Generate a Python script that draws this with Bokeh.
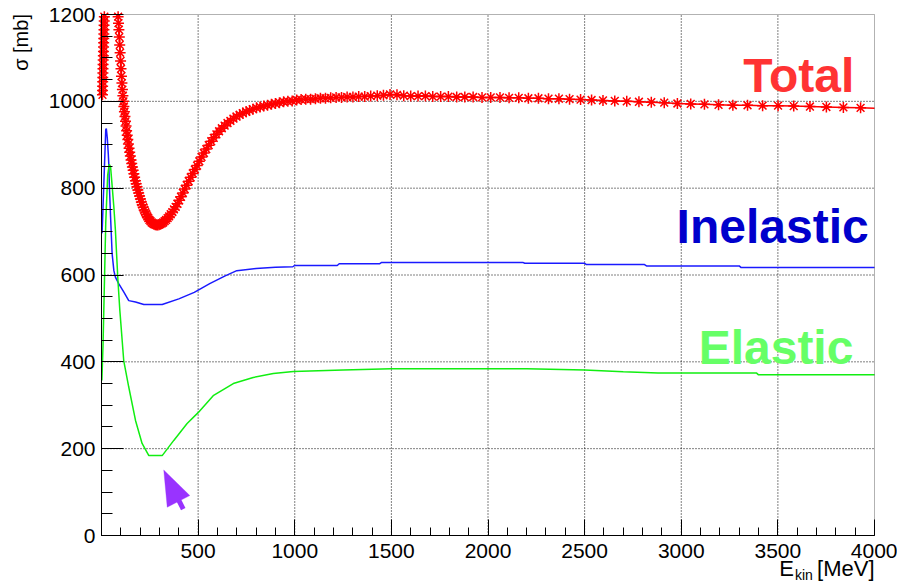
import math
from bokeh.plotting import figure
from bokeh.models import FixedTicker, Label, PolyAnnotation, Range1d, Arrow, BoxAnnotation
from bokeh.embed import file_html
from bokeh.resources import INLINE

# ---------------- data ----------------
# Total cross-section (markers), low-energy column (curve leaves the frame above 1200 mb)
total_energy_low = [5.0, 5.4, 5.8, 6.2, 6.7, 7.2, 7.7, 8.2, 8.8, 9.5,
                    10.1, 10.6, 11.1, 11.7, 12.2, 12.8, 13.4, 14.1, 14.7]
total_low = [1015, 1025, 1035, 1045, 1055, 1065, 1075, 1085, 1095, 1105,
             1115, 1125, 1135, 1145, 1155, 1165, 1175, 1185, 1195]

# Total cross-section, main branch
total_energy = [86.0, 87.9, 90.0, 92.1, 94.2, 96.4, 98.7,
                101, 103.3, 105.7, 108.2, 110.7, 113.3, 115.9, 118.6, 121.4, 124.2,
                127.1, 130.0, 133.1, 136.2, 139.3, 142.7, 145.9, 149.3, 152.9, 156.4,
                160.0, 163.8, 167.6, 171.4, 175.5, 179.5, 183.8, 188.0, 192.3, 196.9,
                201.4, 206.2, 210.9, 215.9, 220.9, 226.1, 231.3, 236.7, 242.2, 247.9,
                253.6, 259.5, 265.6, 271.8, 278.1, 284.5, 291.2, 298.0, 304.9, 312.0,
                319.3, 326.7, 334.3, 342.1, 350.1, 358.2, 366.6, 375.1, 383.9, 392.8,
                402.0, 411.4, 420.9, 430.7, 440.7, 451.0, 461.5, 472.2, 483.2, 494.6,
                506.1, 517.9, 529.9, 542.2, 554.8, 567.8, 581.0, 594.5, 608.4, 622.6,
                637.1, 652.0, 667.1, 682.7, 698.5, 714.8, 731.4, 748.5, 766.0, 783.7,
                802.0, 820.7, 839.9, 859.4, 879.4, 900.0, 920.8, 942.4, 964.3, 986.7,
                1010, 1033, 1057, 1082, 1107, 1133, 1159, 1186, 1214, 1242,
                1271, 1301, 1331, 1362, 1393, 1427, 1459, 1493, 1529, 1564,
                1600, 1638, 1676, 1714, 1755, 1795, 1838, 1880, 1923, 1969,
                2014, 2062, 2109, 2159, 2209, 2261, 2313, 2367, 2422, 2479,
                2536, 2595, 2656, 2718, 2781, 2845, 2912, 2980, 3049, 3120,
                3193, 3267, 3343, 3421, 3501, 3582, 3666, 3751, 3839, 3928]
total = [1195, 1180, 1165, 1148, 1130, 1112, 1093,
         1075, 1058, 1042, 1027, 1013, 1000, 988, 976, 965, 954,
         943, 932, 922, 912, 902, 892, 883, 874, 865, 857,
         849, 841, 833, 825, 817, 810, 803, 796, 789, 782,
         775, 768, 762, 756, 750, 745, 740, 735, 731, 727,
         724, 721, 719, 717, 716, 715, 715, 716, 717, 719,
         721, 724, 727, 731, 735, 740, 745, 751, 757, 764,
         772, 780, 789, 798, 807, 816, 825, 834, 843, 852,
         862, 872, 881, 890, 899, 908, 916, 924, 931, 938,
         944, 950, 955, 960, 965, 969, 973, 976, 979, 982,
         985, 987, 989, 991, 993, 995, 997, 999, 1000, 1001,
         1003, 1004, 1005, 1005, 1006, 1007, 1007, 1008, 1009, 1009,
         1010, 1010, 1011, 1011, 1012, 1013, 1014, 1016, 1015, 1013,
         1012, 1012, 1012, 1011, 1011, 1011, 1010, 1010, 1010, 1009,
         1009, 1009, 1008, 1008, 1007, 1007, 1006, 1006, 1005, 1004,
         1003, 1002, 1001, 1000, 999, 998, 997, 995, 994, 993,
         992, 991, 991, 990, 990, 989, 988, 987, 986, 985]
total_line_end_energy = [4000]
total_line_end = [984]

# Inelastic cross-section
inelastic_energy = [3, 22, 25, 30, 35, 38, 41, 47, 55, 64, 72, 89, 115, 141, 176, 219, 314,
                    400, 480, 560, 640, 700, 800, 900, 990, 1000, 1220, 1230, 1440, 1450,
                    2180, 2190, 2500, 2510, 2810, 2820, 3300, 3310, 4000]
inelastic = [696, 935, 937, 915, 880, 853, 803, 733, 649, 610, 595, 580, 561, 541, 538, 532, 532,
             545, 560, 580, 598, 610, 615, 618, 619, 622, 622, 626, 626, 629,
             629, 627, 627, 624, 624, 621, 621, 617, 617]

# Elastic cross-section
elastic_energy = [2, 8, 14, 22, 32, 40, 47, 56, 64, 72, 78, 85, 95, 115, 141, 176, 210, 245,
                  314, 374, 443, 500, 578, 682, 785, 889, 993, 1250, 1500, 2200, 2500, 2700,
                  2880, 3390, 3400, 4000]
elastic = [357, 440, 560, 720, 830, 855, 849, 800, 756, 703, 649, 588, 518, 403, 342, 265, 212, 184,
           184, 219, 258, 283, 322, 350, 364, 373, 378, 381, 384, 384, 381, 377,
           374, 374, 370, 370]

x_ticks = [500, 1000, 1500, 2000, 2500, 3000, 3500, 4000]
y_ticks = [0, 200, 400, 600, 800, 1000, 1200]
x_lim = (0, 4000)
y_lim = (0, 1200)

FONT = "Liberation Sans"

# frame covers the whole canvas; the plot box is drawn with fixed-location axes
W, H = 897, 582
BOX_L, BOX_R, BOX_T, BOX_B = 101, 874, 14, 535
sx = (BOX_R - BOX_L) / (x_lim[1] - x_lim[0])
sy = (BOX_B - BOX_T) / (y_lim[1] - y_lim[0])
xr = Range1d(x_lim[0] - BOX_L / sx, x_lim[1] + (W - BOX_R) / sx)
yr = Range1d(y_lim[0] - (H - BOX_B) / sy, y_lim[1] + BOX_T / sy)

p = figure(width=W, height=H, output_backend="svg", toolbar_location=None,
           x_range=xr, y_range=yr, title=None, min_border=0)
p.background_fill_color = "white"
p.border_fill_color = "white"
p.outline_line_color = None
p.grid.visible = False

# axes at the data origin
p.xaxis.fixed_location = 0
p.yaxis.fixed_location = 0
p.xaxis.bounds = x_lim
p.yaxis.bounds = y_lim
p.xaxis.ticker = FixedTicker(ticks=x_ticks, minor_ticks=list(range(0, 4001, 100)))
p.yaxis.ticker = FixedTicker(ticks=y_ticks, minor_ticks=list(range(0, 1201, 50)))
for ax in (p.xaxis[0], p.yaxis[0]):
    ax.axis_line_color = "black"
    ax.axis_line_width = 1
    ax.major_tick_line_color = "black"
    ax.minor_tick_line_color = "black"
    ax.major_tick_out = 0
    ax.minor_tick_out = 0
    ax.major_label_text_font = FONT
    ax.major_label_text_font_size = "21px"
    ax.major_label_text_color = "black"
p.xaxis.major_tick_in = 16
p.xaxis.minor_tick_in = 8
p.xaxis.major_label_standoff = 8
p.yaxis.major_tick_in = 22
p.yaxis.minor_tick_in = 11
p.yaxis.major_label_standoff = 6

# dotted grid inside the box, at the major ticks
gx = [t for t in x_ticks if x_lim[0] < t < x_lim[1]]
gy = [t for t in y_ticks if y_lim[0] < t < y_lim[1]]
p.segment(x0=gx, y0=[y_lim[0]] * len(gx), x1=gx, y1=[y_lim[1]] * len(gx),
          line_color="black", line_dash="1 2", line_width=1)
p.segment(x0=[x_lim[0]] * len(gy), y0=gy, x1=[x_lim[1]] * len(gy), y1=gy,
          line_color="black", line_dash="1 2", line_width=1)

# total: line (broken where it leaves the frame) + star markers
line_x = total_energy_low + [float("nan")] + total_energy + total_line_end_energy
line_y = total_low + [float("nan")] + total + total_line_end
p.line(line_x, line_y, line_color="#ff0000", line_width=1.5)
p.scatter(total_energy_low + total_energy, total_low + total, marker="asterisk", size=11,
          line_color="#ff0000", line_width=1.5)

p.line(inelastic_energy, inelastic, line_color="#1a1aff", line_width=1.5)
p.line(elastic_energy, elastic, line_color="#11ee11", line_width=1.5)

# plot box (top and right sides)
p.add_layout(BoxAnnotation(left=x_lim[0], right=x_lim[1], bottom=y_lim[0], top=y_lim[1],
                           fill_alpha=0, fill_color=None, line_color="black", line_width=1))

# curve labels
p.add_layout(Label(x=3321, y=1060, text="Total", text_font=FONT, text_font_style="bold",
                   text_font_size="48px", text_color="#ff3333", text_baseline="alphabetic"))
p.add_layout(Label(x=2976, y=711, text="Inelastic", text_font=FONT, text_font_style="bold",
                   text_font_size="48px", text_color="#0000cc", text_baseline="alphabetic"))
p.add_layout(Label(x=3090, y=434, text="Elastic", text_font=FONT, text_font_style="bold",
                   text_font_size="48px", text_color="#66ff66", text_baseline="alphabetic"))

# axis titles
p.add_layout(Label(x=-414, y=1201, text="σ [mb]", angle=math.pi / 2, text_align="right",
                   text_baseline="alphabetic", text_font=FONT, text_font_size="20px",
                   text_color="black"))
p.add_layout(Label(x=4000, y=-77, text="[MeV]", text_align="right", text_baseline="alphabetic",
                   text_font=FONT, text_font_size="22px", text_color="black"))
p.add_layout(Label(x=3681, y=-91, text="kin", text_align="right", text_baseline="alphabetic",
                   text_font=FONT, text_font_size="14px", text_color="black"))
p.add_layout(Label(x=3583, y=-77, text="E", text_align="right", text_baseline="alphabetic",
                   text_font=FONT, text_font_size="22px", text_color="black"))

# purple arrow pointing at the elastic minimum
p.add_layout(PolyAnnotation(xs=[322, 340, 457], ys=[151, 65, 92], fill_color="#9933ff",
                            fill_alpha=1.0, line_color="#9933ff", line_width=1))
p.add_layout(Arrow(end=None, x_start=400, y_start=81, x_end=423, y_end=61,
                   line_color="#9933ff", line_width=5))

open("out.html", "w").write(file_html(p, INLINE))
